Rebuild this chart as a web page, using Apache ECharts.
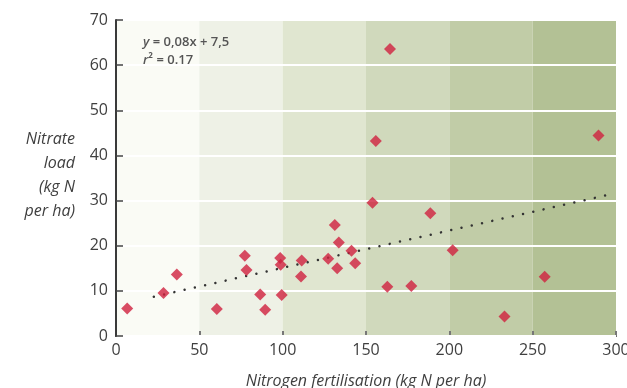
<!DOCTYPE html>
<html>
<head>
<meta charset="utf-8">
<script src="https://cdn.jsdelivr.net/npm/echarts@6/dist/echarts.min.js"></script>
<style>
  html, body { margin: 0; padding: 0; background: #fff; }
  #chart { width: 627px; height: 388px; }
</style>
</head>
<body>
<div id="chart"></div>
<script>
// fertilisation (kg N/ha) vs nitrate load (kg N/ha)
const nitrogen = [6.7, 28.5, 36.5, 60.5, 77.3, 78.3, 86.5, 89.5, 98.5, 98.8, 99.4,
    111.4, 111.0, 127.3, 131.3, 132.7, 133.7, 141.3, 143.5, 153.9, 155.9, 164.4,
    162.8, 177.2, 188.6, 202.0, 233.1, 257.2, 289.5];
const nitrate = [6.1, 9.5, 13.6, 6.0, 17.8, 14.6, 9.2, 5.8, 17.3, 15.8, 9.1,
    16.7, 13.2, 17.1, 24.6, 15.0, 20.7, 18.9, 16.1, 29.5, 43.2, 63.6,
    10.9, 11.1, 27.2, 19.0, 4.3, 13.1, 44.4];

// regression line as drawn
const trendX = [22.7, 294.6];
const trendY = [8.7, 31.2];

const bandColors = ['#fafbf5', '#eef1e6', '#e0e6d0', '#d0d9bc', '#c1cca7', '#b3c195'];
const yTitleLines = ['Nitrate', 'load', '(kg N', 'per ha)'];
const equationLines = [['y', ' = 0,08x + 7,5'], ['r', '² = 0.17']];

const font = '"Open Sans", sans-serif';
const textColor = '#3f3f3f';

const graphics = [];
yTitleLines.forEach((t, i) => {
    graphics.push({
        type: 'text',
        x: 75,
        y: 139 + i * 24.3,
        style: {
            text: t,
            align: 'right',
            verticalAlign: 'middle',
            font: 'italic 16px "Open Sans", sans-serif',
            fill: textColor
        }
    });
});
equationLines.forEach((parts, i) => {
    graphics.push({
        type: 'text',
        x: 143,
        y: 42 + i * 18.5,
        z: 10,
        style: {
            text: '{i|' + parts[0] + '}{n|' + parts[1] + '}',
            verticalAlign: 'middle',
            rich: {
                i: { font: 'italic 600 13px "Open Sans", sans-serif', fill: '#555' },
                n: { font: '600 13px "Open Sans", sans-serif', fill: '#555' }
            }
        }
    });
});

const chart = echarts.init(document.getElementById('chart'));
chart.setOption({
    animation: false,
    grid: { left: 116, right: 11, top: 20, bottom: 52, outerBoundsMode: 'none', containLabel: false },
    xAxis: {
        type: 'value',
        min: 0,
        max: 300,
        interval: 50,
        z: 0,
        name: 'Nitrogen fertilisation (kg N per ha)',
        nameLocation: 'middle',
        nameGap: 37,
        nameTextStyle: { fontFamily: font, fontStyle: 'italic', fontSize: 16, color: textColor },
        axisLine: { lineStyle: { color: '#3a3a3a', width: 2 } },
        axisTick: { inside: true, length: 5, lineStyle: { color: '#777', width: 2 } },
        axisLabel: { fontFamily: font, fontSize: 16, color: textColor, margin: 6 },
        splitLine: { show: false },
        splitArea: { show: true, areaStyle: { color: bandColors } }
    },
    yAxis: {
        type: 'value',
        min: 0,
        max: 70,
        interval: 10,
        z: 1,
        axisLine: { show: true, lineStyle: { color: '#3a3a3a', width: 2 } },
        axisTick: { show: true, inside: true, length: 7, lineStyle: { color: '#444', width: 1.5 } },
        axisLabel: { fontFamily: font, fontSize: 16, color: textColor, margin: 8 },
        splitLine: { show: true, lineStyle: { color: '#ffffff', width: 2 } }
    },
    graphic: graphics,
    series: [
        {
            type: 'line',
            data: trendX.map((x, i) => [x, trendY[i]]),
            symbol: 'none',
            lineStyle: { color: '#333', width: 2.5, type: [0.01, 10.5], cap: 'round' },
            silent: true,
            z: 2
        },
        {
            type: 'scatter',
            data: nitrogen.map((x, i) => [x, nitrate[i]]),
            symbol: 'diamond',
            symbolSize: 12,
            itemStyle: { color: '#d0203e' },
            z: 3
        }
    ]
});
</script>
</body>
</html>
